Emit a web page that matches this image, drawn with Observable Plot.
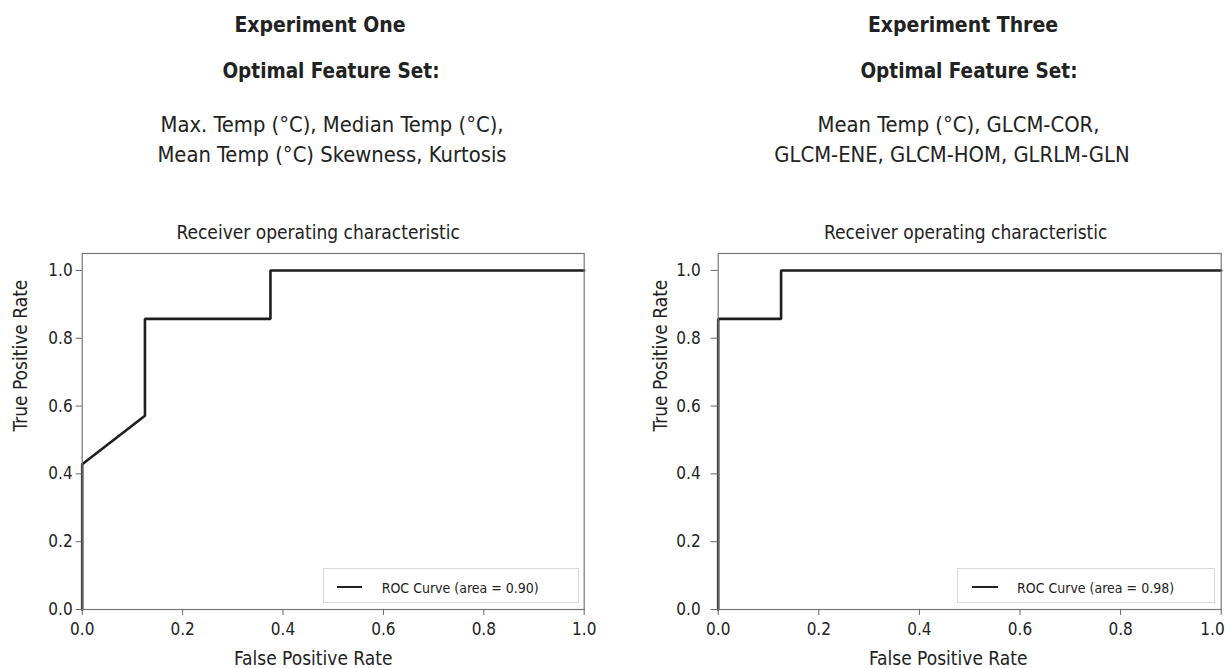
<!DOCTYPE html>
<html>
<head>
<meta charset="utf-8">
<script src="https://cdn.jsdelivr.net/npm/d3@7"></script>
<script src="https://cdn.jsdelivr.net/npm/@observablehq/plot@0.6"></script>
<style>
html, body { margin: 0; padding: 0; background: #fff; }
body { font-family: "DejaVu Sans Condensed", "DejaVu Sans", sans-serif; font-stretch: condensed; color: #222; }
#root { position: relative; width: 1225px; height: 668px; overflow: hidden; background: #fff; }
.hdr { position: absolute; width: 600px; text-align: center; white-space: nowrap; line-height: 1; }
.hdr.bold { font-weight: bold; }
.feat { position: absolute; width: 600px; text-align: center; white-space: nowrap; line-height: 30px; font-size: 21.8px; }
.panel { position: absolute; top: 210px; }
.legend { position: absolute; border: 1px solid #dadada; background: rgba(255,255,255,0.85); box-sizing: border-box; }
.legend .swatch { position: absolute; height: 2.6px; background: #222; }
.legend .txt { position: absolute; font-size: 14px; line-height: 1; white-space: nowrap; color: #222; }
</style>
</head>
<body>
<div id="root"></div>
<script>
// ---- data ----
const experimentTitles = ["Experiment One", "Experiment Three"];
const subtitleText = "Optimal Feature Set:";
const featureLines = [
  ["Max. Temp (°C), Median Temp (°C),", "Mean Temp (°C) Skewness, Kurtosis"],
  ["Mean Temp (°C), GLCM-COR,", "GLCM-ENE, GLCM-HOM, GLRLM-GLN"]
];
const chartTitle = "Receiver operating characteristic";
const xLabel = "False Positive Rate";
const yLabel = "True Positive Rate";
const tickValues = [0, 0.2, 0.4, 0.6, 0.8, 1.0];
const exp1FPR = [0, 0, 0.125, 0.125, 0.375, 0.375, 1];
const exp1TPR = [0, 0.4286, 0.5714, 0.8571, 0.8571, 1, 1];
const exp3FPR = [0, 0, 0.125, 0.125, 1];
const exp3TPR = [0, 0.8571, 0.8571, 1, 1];
const aucValues = [0.90, 0.98];
const legendLabel = "ROC Curve";

// ---- layout ----
const layouts = [
  {left: 0, width: 612, mr: 28.3, titleDx: -15, xLabelDx: -20, yLabelDx: -61, yTickSize: 6, yTickPad: 3.5,
   lastLabelEnd: false,
   centers: [320, 331, 332, 332],
   legend: {left: 322.7, width: 256.3, lineL: 13, lineW: 25, textL: 58}},
  {left: 636, width: 589, mr: 4.3, titleDx: -4, xLabelDx: -21.5, yLabelDx: -57.3, yTickSize: 7, yTickPad: 10.5,
   lastLabelEnd: true,
   centers: [963, 969, 958.5, 952],
   legend: {left: 320.7, width: 258.3, lineL: 14, lineW: 26, textL: 59.3}}
];
const series = [[exp1FPR, exp1TPR], [exp3FPR, exp3TPR]];
const root = document.getElementById("root");
const FONT = '"DejaVu Sans Condensed", "DejaVu Sans", sans-serif';
const fmt = d3.format(".1f");

function addHdr(text, center, top, size, bold) {
  const d = document.createElement("div");
  d.className = "hdr" + (bold ? " bold" : "");
  d.style.left = (center - 300) + "px";
  d.style.top = top + "px";
  d.style.fontSize = size + "px";
  d.textContent = text;
  root.appendChild(d);
}

layouts.forEach((L, i) => {
  addHdr(experimentTitles[i], L.centers[0], 15.2, 21, true);
  addHdr(subtitleText, L.centers[1], 60.7, 20.5, true);
  featureLines[i].forEach((line, j) => {
    const d = document.createElement("div");
    d.className = "feat";
    d.style.left = (L.centers[2 + j] - 300) + "px";
    d.style.top = (110.4 + 30 * j) + "px";
    d.textContent = line;
    root.appendChild(d);
  });

  const [fpr, tpr] = series[i];
  const pts = fpr.map((x, k) => ({x, y: tpr[k]}));
  const lastTick = tickValues[tickValues.length - 1];

  const axisMarks = [
    Plot.axisX({ticks: tickValues, tickFormat: d => (L.lastLabelEnd && d === lastTick) ? "" : fmt(d),
                tickSize: 6, tickPadding: 7, fontSize: 17, label: null, stroke: "#666", fill: "#222"})
  ];
  if (L.lastLabelEnd) {
    axisMarks.push(Plot.axisX({ticks: [lastTick], tickFormat: fmt, tickSize: 0, tickPadding: 13,
                               textAnchor: "end", dx: 3.5, fontSize: 17, label: null, stroke: "none", fill: "#222"}));
  }

  const plot = Plot.plot({
    width: L.width,
    height: 458,
    marginLeft: 81.7,
    marginRight: L.mr,
    marginTop: 43,
    marginBottom: 59,
    style: {fontFamily: FONT, fontStretch: "condensed", background: "transparent", color: "#222"},
    x: {domain: [0, 1]},
    y: {domain: [0, 1.05]},
    marks: [
      Plot.line(pts, {x: "x", y: "y", stroke: "#1e1e1e", strokeWidth: 2.6, strokeLinejoin: "miter"}),
      Plot.frame({stroke: "#777", strokeWidth: 1.2}),
      ...axisMarks,
      Plot.axisY({ticks: tickValues, tickFormat: fmt, tickSize: L.yTickSize, tickPadding: L.yTickPad,
                  fontSize: 17, label: null, stroke: "#666", fill: "#222"}),
      Plot.text([chartTitle], {text: d => d, frameAnchor: "top", dx: L.titleDx, dy: -20.6,
                 lineAnchor: "middle", fontSize: 19, fill: "#222"}),
      Plot.text([xLabel], {text: d => d, frameAnchor: "bottom", dx: L.xLabelDx, dy: 49.7,
                 lineAnchor: "middle", fontSize: 19, fill: "#222"}),
      Plot.text([yLabel], {text: d => d, frameAnchor: "left", dx: L.yLabelDx, rotate: -90,
                 lineAnchor: "middle", fontSize: 19, fill: "#222"})
    ]
  });

  const panel = document.createElement("div");
  panel.className = "panel";
  panel.style.left = L.left + "px";
  panel.style.width = L.width + "px";
  panel.style.height = "458px";
  panel.appendChild(plot);

  const lg = document.createElement("div");
  lg.className = "legend";
  lg.style.left = L.legend.left + "px";
  lg.style.top = "358px";
  lg.style.width = L.legend.width + "px";
  lg.style.height = "35px";
  const sw = document.createElement("div");
  sw.className = "swatch";
  sw.style.left = L.legend.lineL + "px";
  sw.style.width = L.legend.lineW + "px";
  sw.style.top = "16.7px";
  const tx = document.createElement("div");
  tx.className = "txt";
  tx.style.left = L.legend.textL + "px";
  tx.style.top = "11.9px";
  tx.textContent = `${legendLabel} (area = ${aucValues[i].toFixed(2)})`;
  lg.appendChild(sw);
  lg.appendChild(tx);
  panel.appendChild(lg);

  root.appendChild(panel);
});
</script>
</body>
</html>
